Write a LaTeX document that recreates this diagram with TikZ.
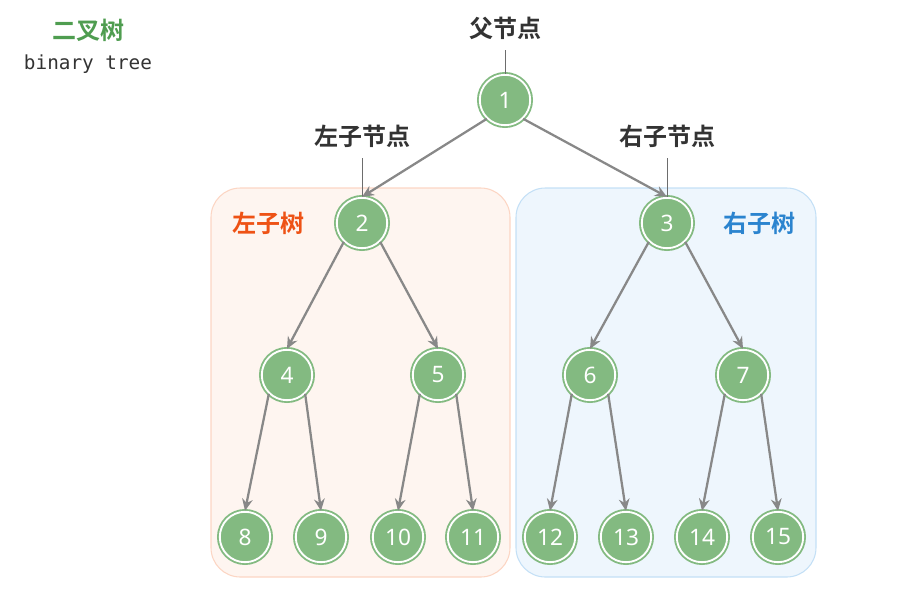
\documentclass[tikz,border=0pt]{standalone}
\usepackage{fontspec}
\setmainfont{Noto Sans}
\newfontfamily\cjk{Noto Sans CJK SC}[BoldFont={* Bold}]
\newfontfamily\monof{DejaVu Sans Mono}
\usetikzlibrary{arrows.meta}
\definecolor{nodegreen}{HTML}{83BA81}
\definecolor{edgegray}{HTML}{888888}
\definecolor{lfill}{HTML}{FEF5F0}
\definecolor{lborder}{HTML}{FCD6C4}
\definecolor{rfill}{HTML}{EEF6FD}
\definecolor{rborder}{HTML}{C4E0F6}
\definecolor{ltext}{HTML}{EE5215}
\definecolor{rtext}{HTML}{2B84CF}
\definecolor{ttext}{HTML}{4F9D50}
\definecolor{labtext}{HTML}{333333}
\begin{document}
\begin{tikzpicture}[x=0.75pt,y=-0.75pt,
  tnode/.style={circle,fill=nodegreen,draw=nodegreen,double=white,line width=1.4pt,double distance=1.4pt,
    minimum size=37.8pt,inner sep=0pt,text=white,font=\fontsize{17}{17}\selectfont},
  edge/.style={draw=edgegray,line width=1.7pt,-{Stealth[length=9pt,width=8pt,inset=3pt]}},
  lab/.style={font=\cjk\bfseries\fontsize{18}{18}\selectfont,text=labtext,inner sep=0pt},
  pointer/.style={draw=edgegray!80!black,line width=0.7pt},
  subbox/.style={rounded corners=22pt,line width=0.8pt}]
\useasboundingbox (0,0) rectangle (904,590);
% subtree boxes
\path[subbox,fill=lfill,draw=lborder] (211,188) rectangle (510,577);
\path[subbox,fill=rfill,draw=rborder] (516,188) rectangle (816,577);
% titles
\node[font=\cjk\bfseries\fontsize{18}{18}\selectfont,text=ttext,inner sep=0pt] (title) at (88,30) {二叉树};
\node[font=\monof\fontsize{14.5}{14.5}\selectfont,text=labtext,inner sep=0pt] (subtitle) at (88,64) {binary tree};
\node[font=\cjk\bfseries\fontsize{18}{18}\selectfont,text=ltext,inner sep=0pt] (ltree) at (268,223) {左子树};
\node[font=\cjk\bfseries\fontsize{18}{18}\selectfont,text=rtext,inner sep=0pt] (rtree) at (759,223) {右子树};
% nodes
\node[tnode] (n1) at (505,100) {1};
\node[tnode] (n2) at (362,223) {2};
\node[tnode] (n3) at (667,223) {3};
\node[tnode] (n4) at (287,375) {4};
\node[tnode] (n5) at (438,375) {5};
\node[tnode] (n6) at (590,375) {6};
\node[tnode] (n7) at (743,375) {7};
\node[tnode] (n8) at (245,537) {8};
\node[tnode] (n9) at (321,537) {9};
\node[tnode] (n10) at (398,537) {10};
\node[tnode] (n11) at (473,537) {11};
\node[tnode] (n12) at (550,537) {12};
\node[tnode] (n13) at (626,537) {13};
\node[tnode] (n14) at (702,537) {14};
\node[tnode] (n15) at (778,537) {15};
% labels
\node[lab] (lparent) at (505,28) {父节点};
\node[lab] (lleft) at (362,136) {左子节点};
\node[lab] (lright) at (667,136) {右子节点};
\coordinate (pp) at (505,50);
\coordinate (pl) at (362,158);
\coordinate (pr) at (667,158);
\draw[pointer] (pp) -- (n1.north);
\draw[pointer] (pl) -- (n2.north);
\draw[pointer] (pr) -- (n3.north);
% edges
\foreach \p/\l/\r in {n1/n2/n3,n2/n4/n5,n3/n6/n7,n4/n8/n9,n5/n10/n11,n6/n12/n13,n7/n14/n15}{
  \draw[edge] (\p.-134) -- (\l.north);
  \draw[edge] (\p.-46) -- (\r.north);
}
\end{tikzpicture}
\end{document}
